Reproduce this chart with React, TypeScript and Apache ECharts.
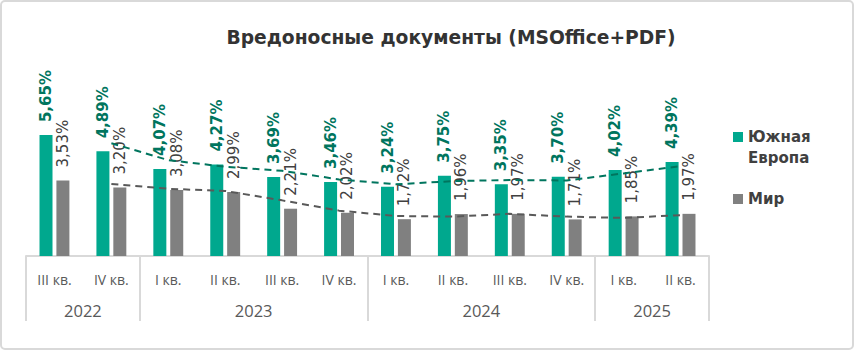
import React, { useEffect, useRef } from "react";
import * as echarts from "echarts";

const quarters = ["III кв.", "IV кв.", "I кв.", "II кв.", "III кв.", "IV кв.", "I кв.", "II кв.", "III кв.", "IV кв.", "I кв.", "II кв."];
const yearSlots = ["", "2022", "", "", "2023", "", "", "", "2024", "", "", "2025", ""];
const yearBoundaries = [0, 2, 6, 10, 12];
const southEurope = [5.65, 4.89, 4.07, 4.27, 3.69, 3.46, 3.24, 3.75, 3.35, 3.70, 4.02, 4.39];
const world = [3.53, 3.20, 3.08, 2.99, 2.21, 2.02, 1.72, 1.96, 1.97, 1.71, 1.85, 1.97];
const southEuropeTrend = [null, 5.27, 4.48, 4.17, 3.98, 3.58, 3.35, 3.5, 3.55, 3.53, 3.86, 4.2];
const worldTrend = [null, 3.37, 3.14, 3.04, 2.6, 2.12, 1.87, 1.84, 1.97, 1.84, 1.78, 1.91];

const GREEN = "#00a88e";
const GREEN_DARK = "#00755e";
const GRAY = "#808080";
const TEXT = "#404040";
const FONT = "DejaVu Sans";

const fmt = (p: any) => p.value.toFixed(2).replace(".", ",") + "%";

export default function App() {
  const ref = useRef<HTMLDivElement>(null);
  useEffect(() => {
    const chart = echarts.init(ref.current!, null, { renderer: "svg" });
    chart.setOption({
      animation: false,
      backgroundColor: "#ffffff",
      grid: { left: 26, right: 146, top: 127.6, bottom: 95 },
      xAxis: [
        {
          type: "category",
          data: quarters,
          axisLine: { show: true, lineStyle: { color: "#d9d9d9", width: 2 } },
          axisTick: { show: false },
          axisLabel: { interval: 0, margin: 16, fontFamily: "Open Sans", fontSize: 14, color: "#595959" },
        },
        {
          type: "category",
          data: yearSlots,
          boundaryGap: false,
          position: "bottom",
          axisLine: { show: false },
          axisTick: {
            show: true,
            length: 65,
            interval: (i: number) => yearBoundaries.includes(i),
            lineStyle: { color: "#d9d9d9", width: 2 },
          },
          axisLabel: { interval: 0, margin: 46, fontFamily: "Open Sans", fontSize: 16.5, color: "#595959" },
        },
      ],
      yAxis: { type: "value", min: 0, max: 6, show: false, splitLine: { show: false } },
      series: [
        {
          name: "Южная Европа",
          type: "bar",
          data: southEurope,
          barWidth: 13,
          barGap: "30%",
          itemStyle: { color: GREEN },
          label: {
            show: true,
            position: "top",
            rotate: 90,
            align: "left",
            verticalAlign: "middle",
            distance: 13,
            formatter: fmt,
            fontFamily: FONT,
            fontSize: 15,
            fontWeight: "bold",
            color: GREEN_DARK,
          },
        },
        {
          name: "Мир",
          type: "bar",
          data: world,
          barWidth: 13,
          itemStyle: { color: GRAY },
          label: {
            show: true,
            position: "top",
            rotate: 90,
            align: "left",
            verticalAlign: "middle",
            distance: 13,
            formatter: fmt,
            fontFamily: FONT,
            fontSize: 15,
            color: TEXT,
          },
        },
        {
          type: "line",
          data: southEuropeTrend,
          symbol: "none",
          lineStyle: { color: GREEN_DARK, width: 2, type: [7, 5] },
          z: 3,
        },
        {
          type: "line",
          data: worldTrend,
          symbol: "none",
          lineStyle: { color: "#595959", width: 2, type: [7, 5] },
          z: 3,
        },
      ],
      graphic: [
        {
          type: "rect",
          shape: { x: 1, y: 1, width: 852, height: 348, r: 4 },
          style: { fill: "none", stroke: "#d9d9d9", lineWidth: 2 },
          silent: true,
        },
        {
          type: "text",
          x: 451,
          y: 37,
          style: {
            text: "Вредоносные документы (MSOffice+PDF)",
            fontFamily: FONT,
            fontSize: 18.7,
            fontWeight: "bold",
            fill: "#333333",
            align: "center",
            verticalAlign: "middle",
          },
        },
        { type: "rect", shape: { x: 733, y: 132, width: 10, height: 10 }, style: { fill: GREEN } },
        {
          type: "text",
          x: 748,
          y: 126,
          style: {
            text: "Южная\nЕвропа",
            fontFamily: FONT,
            fontSize: 15,
            fontWeight: "bold",
            lineHeight: 21.5,
            fill: TEXT,
            align: "left",
            verticalAlign: "top",
          },
        },
        { type: "rect", shape: { x: 733, y: 194, width: 10, height: 10 }, style: { fill: GRAY } },
        {
          type: "text",
          x: 748,
          y: 199,
          style: {
            text: "Мир",
            fontFamily: FONT,
            fontSize: 15,
            fontWeight: "bold",
            fill: TEXT,
            align: "left",
            verticalAlign: "middle",
          },
        },
      ],
    });
    return () => chart.dispose();
  }, []);
  return <div ref={ref} style={{ position: "fixed", left: 0, top: 0, width: 855, height: 351 }} />;
}
